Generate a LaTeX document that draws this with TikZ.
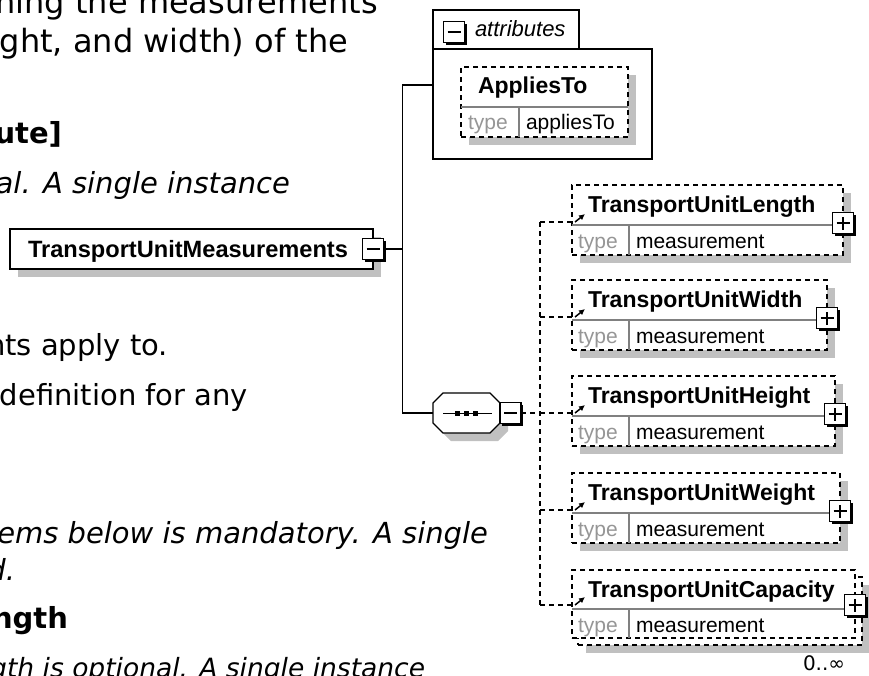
\documentclass[tikz,border=0pt]{standalone}
\usepackage{fontspec}
\setmainfont{DejaVu Sans}
\newfontfamily\spyfont{Liberation Sans}
\usetikzlibrary{calc,shadows,arrows.meta}

\definecolor{shadegray}{RGB}{192,192,192}
\definecolor{typegray}{RGB}{150,150,150}
\definecolor{rulegray}{RGB}{128,128,128}

\tikzset{
  doctext/.style={anchor=base east, inner sep=0pt, font=\fontsize{29}{35}\selectfont},
  doctop/.style={doctext, font=\fontsize{32}{38}\selectfont},
  docbold/.style={doctext, font=\fontsize{29}{35}\selectfont\bfseries},
  docital/.style={doctext, font=\fontsize{29}{35}\selectfont\itshape},
  spyshadow/.style={drop shadow={shadow xshift=8pt, shadow yshift=-8pt, fill=shadegray, opacity=1}},
  mainbox/.style={draw, line width=1.5pt, fill=white, spyshadow, anchor=north west,
    minimum height=40pt, text width=327pt, inner xsep=18pt, inner ysep=0pt,
    text height=17pt, text depth=0pt, align=left,
    font=\spyfont\bfseries\fontsize{23.6}{28}\selectfont},
  elembox/.style={draw, line width=1.5pt, dash pattern=on 5pt off 4pt, fill=white,
    anchor=north west, minimum height=70pt, inner sep=0pt},
  elemname/.style={anchor=base west, inner sep=0pt, font=\spyfont\bfseries\fontsize{23}{27}\selectfont},
  typetxt/.style={anchor=base west, inner sep=0pt, text=typegray, font=\spyfont\fontsize{21}{25}\selectfont},
  typeval/.style={anchor=base west, inner sep=0pt, font=\spyfont\fontsize{21}{25}\selectfont},
  divider/.style={draw=rulegray, line width=1.2pt},
  togglebox/.style={draw, line width=1.5pt, fill=white, minimum size=21pt, inner sep=0pt,
    drop shadow={shadow xshift=2pt, shadow yshift=-2pt, fill=black, opacity=1}},
  minusbox/.style={togglebox, path picture={
    \draw[line width=1.5pt] ([xshift=4pt]path picture bounding box.west) -- ([xshift=-4pt]path picture bounding box.east);}},
  plusbox/.style={togglebox, path picture={
    \draw[line width=1.5pt] ([xshift=4pt]path picture bounding box.west) -- ([xshift=-4pt]path picture bounding box.east);
    \draw[line width=1.5pt] ([yshift=4pt]path picture bounding box.south) -- ([yshift=-4pt]path picture bounding box.north);}},
  conn/.style={line width=1.5pt},
  dashconn/.style={line width=1.5pt, dash pattern=on 5pt off 4pt},
  refarrow/.style={line width=1.5pt, -{Latex[length=6pt,width=6pt]}}
}

\begin{document}
\begin{tikzpicture}[x=1pt, y=-1pt, every node/.append style={outer sep=0pt}]
\useasboundingbox (0,0) rectangle (869,675);
\fill[white] (0,0) rectangle (869,675);
\clip (0,0) rectangle (869,675);

% text of the page behind the diagram
\node (doc1) [doctop] at (378,13) {ning the measurements};
\node (doc2) [doctop] at (348,52) {ght, and width) of the};
\node (doc3) [docbold] at (62,143) {ute]};
\node (doc4) [docital] at (290,193) {al. A single instance};
\node (doc5) [doctext] at (168,355) {nts apply to.};
\node (doc6) [doctext] at (248,405) {definition for any};
\node (doc7) [docital] at (488,543) {ems below is mandatory. A single};
\node (doc8) [docital] at (15,580) {d.};
\node (doc9) [docbold] at (68,628) {ngth};
\node (doc10) [docital, font=\fontsize{26.5}{32}\selectfont\itshape] at (425,677) {gth is optional. A single instance};

% element
\node (measure) [mainbox] at (10,229) {TransportUnitMeasurements};
\node (measure-x) [minusbox] at (measure.east) {};
\coordinate (fork) at ($(measure-x.east)+(19,0)$);

% attributes group
\node (attrs) [draw, line width=1.5pt, fill=white, anchor=north west, minimum width=219pt, minimum height=110pt, inner sep=0pt] at (433,49) {};
\draw[line width=1.5pt] (attrs.north west) -- ++(0,-39) -- ++(146,0) -- ++(0,39);
\node (attrs-x) [minusbox] at ($(attrs.north west)+(21,-17)$) {};
\node (attrs-label) [anchor=base west, inner sep=0pt, font=\spyfont\itshape\fontsize{22}{26}\selectfont] at ($(attrs.north west)+(42,-13)$) {attributes};
\coordinate (attrs-in) at ($(attrs.north west)+(0,36)$);

\node (applies) [elembox, spyshadow, minimum width=167pt] at (461,67) {};
\node (applies-name) [elemname] at ($(applies.north west)+(17,26)$) {AppliesTo};
\draw[divider] ($(applies.north west)+(0,40)$) -- ($(applies.north east)+(0,40)$);
\draw[divider] ($(applies.north west)+(58,40)$) -- ($(applies.south west)+(58,0)$);
\node (applies-type) [typetxt] at ($(applies.north west)+(7,62)$) {type};
\node (applies-val) [typeval] at ($(applies.north west)+(65,62)$) {appliesTo};

% sequence
\node (seq) [minimum width=67pt, minimum height=40pt, inner sep=0pt] at (466.5,413) {};
\draw[line width=1.2pt, fill=white, spyshadow]
  ($(seq.north west)+(10,0)$) -- ($(seq.north east)+(-10,0)$) -- ($(seq.north east)+(0,10)$)
  -- ($(seq.south east)+(0,-10)$) -- ($(seq.south east)+(-10,0)$) -- ($(seq.south west)+(10,0)$)
  -- ($(seq.south west)+(0,-10)$) -- ($(seq.north west)+(0,10)$) -- cycle;
\draw[line width=1pt] ($(seq.west)+(10,0)$) -- ($(seq.east)+(-8,0)$);
\foreach \dx in {-9,0,9} \fill ($(seq.center)+(\dx,0)+(-2.5,-2.5)$) rectangle +(5,5);
\node (seq-x) [minusbox, anchor=west] at (seq.east) {};
\coordinate (bus) at ($(seq-x.east)+(19,0)$);

% child elements
\foreach \n/\t/\w/\y in {len/Length/271/185, wid/Width/255/280, hgt/Height/263/376, wgt/Weight/268/473}{
  \node (\n) [elembox, spyshadow, minimum width=\w pt] at (572,\y) {};
  \node (\n-name) [elemname] at ($(\n.north west)+(16,27)$) {TransportUnit\t};
  \draw[divider] ($(\n.north west)+(0,40)$) -- ($(\n.north east)+(0,40)$);
  \draw[divider] ($(\n.north west)+(57,40)$) -- ($(\n.south west)+(57,0)$);
  \node (\n-type) [typetxt] at ($(\n.north west)+(6,63)$) {type};
  \node (\n-val) [typeval] at ($(\n.north west)+(64,63)$) {measurement};
  \node (\n-x) [plusbox] at ($(\n.north east)+(0,38)$) {};
  \coordinate (\n-in) at ($(\n.north west)+(0,37)$);
  \draw[refarrow] ($(\n-in)+(3,0)$) -- ++(10,-8);
}

\node (capback) [elembox, spyshadow, minimum width=284pt, minimum height=68pt] at (578,577) {};
\node (cap) [elembox, minimum width=283pt, minimum height=68pt] at (572,570) {};
\node (cap-name) [elemname] at ($(cap.north west)+(16,27)$) {TransportUnitCapacity};
\draw[divider] ($(cap.north west)+(0,39)$) -- ($(cap.north east)+(0,39)$);
\draw[divider] ($(cap.north west)+(57,39)$) -- ($(cap.south west)+(57,0)$);
\node (cap-type) [typetxt] at ($(cap.north west)+(6,62)$) {type};
\node (cap-val) [typeval] at ($(cap.north west)+(64,62)$) {measurement};
\node (cap-x) [plusbox] at ($(cap.north east)+(0,35)$) {};
\coordinate (cap-in) at ($(cap.north west)+(0,35)$);
\draw[refarrow] ($(cap-in)+(3,0)$) -- ++(10,-8);
\node (cap-mult) [anchor=base west, inner sep=0pt, font=\fontsize{20}{24}\selectfont] at (803,670) {0..∞};

% connectors
\draw[conn] (measure-x.east) -- (fork);
\draw[conn] (fork) |- (attrs-in);
\draw[conn] (fork) |- (seq.west);
\draw[dashconn] (seq-x.east) -- (bus);
\draw[dashconn] (bus |- len-in) -- (bus |- cap-in);
\foreach \n in {len,wid,hgt,wgt,cap} \draw[dashconn] (bus |- \n-in) -- (\n-in);
\end{tikzpicture}
\end{document}
